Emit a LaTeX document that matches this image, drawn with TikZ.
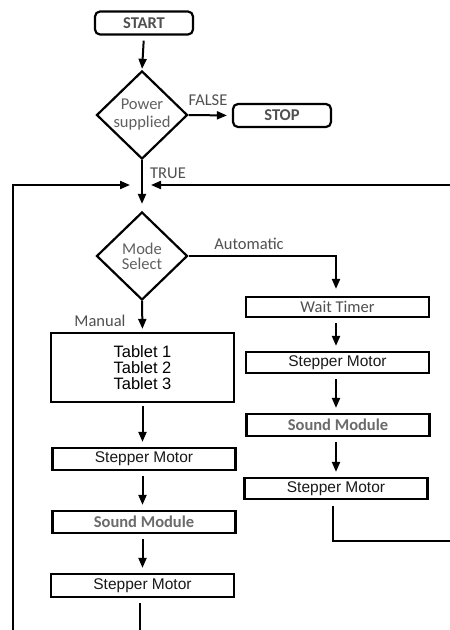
\documentclass[tikz,border=0pt]{standalone}
\usepackage{fontspec}
\setmainfont{Carlito}
\newfontfamily\arialf{Liberation Sans}
\usetikzlibrary{shapes.geometric,arrows.meta}
\definecolor{lbl}{HTML}{505050}
\definecolor{lbl2}{HTML}{606060}
\definecolor{snd}{HTML}{6A6A6A}
\begin{document}
\begin{tikzpicture}[x=1pt,y=-1pt,
  term/.style={draw,line width=2.2pt,rounded corners=5pt,minimum width=98pt,minimum height=23pt,inner sep=0pt,font=\fontsize{16.5}{16}\selectfont\bfseries,text=lbl},
  dec/.style={draw,diamond,line width=2.2pt,inner sep=0pt,minimum width=91pt,minimum height=88pt,text=lbl2,align=center},
  procbox/.style={draw,line width=2.2pt,minimum width=183pt,minimum height=21pt,inner sep=0pt},
  ar/.style={font=\arialf\fontsize{15.5}{15}\selectfont,text=black!90},
  cal/.style={font=\fontsize{16.5}{16}\selectfont,text=lbl},
  conn/.style={line width=2pt,-{Triangle[length=10pt,width=8pt]}},
  plain/.style={line width=2pt}
]
\useasboundingbox (0,0) rectangle (450,630);
\fill[white] (0,0) rectangle (450,630);

% top part
\node[term] (start) at (144,23) {START};
\node[dec,font=\fontsize{16.5}{18}\selectfont] (pw) at (142,115) {Power\\supplied};
\node[term] (stop) at (282,115.5) {STOP};
\node[cal] (false) at (208,100) {FALSE};
\node[cal] (true) at (168,173) {TRUE};

\node[dec,font=\fontsize{16.5}{15}\selectfont] (md) at (142,256) {Mode\\Select};
\node[cal] (auto) at (249,244) {Automatic};
\node[cal] (man) at (100,321) {Manual};

% right column
\node[procbox,minimum height=20pt,font=\fontsize{16.5}{16}\selectfont,text=lbl] (wait) at (337.5,307) {Wait Timer};
\node[procbox,ar] (sr1) at (337.5,362.5) {Stepper Motor};
\node[procbox,minimum height=22pt,font=\fontsize{16.5}{16}\selectfont\bfseries,text=snd] (snr) at (338,425) {Sound Module};
\node[procbox,ar] (sr2) at (336,488.5) {Stepper Motor};

% left column
\node[procbox,minimum height=69pt,align=center,font=\arialf\fontsize{16.5}{16}\selectfont] (tab) at (142.5,367.5) {Tablet 1\\Tablet 2\\Tablet 3};
\node[procbox,minimum height=22pt,ar] (sl1) at (144,459) {Stepper Motor};
\node[procbox,minimum height=22pt,font=\fontsize{16.5}{16}\selectfont\bfseries,text=snd] (snl) at (144,522) {Sound Module};
\node[procbox,minimum height=23pt,ar] (sl2) at (142.5,585.5) {Stepper Motor};

% coordinates
\coordinate (jl) at (130,185);
\coordinate (jr) at (151,185);
\coordinate (lb) at (13,630);
\coordinate (lt) at (13,185);
\coordinate (re) at (450,185);
\coordinate (ac) at (336,256);
\coordinate (rbc) at (333,541);
\coordinate (rbe) at (450,541);
\coordinate (lbe) at (140,630);

% connectors
\draw[conn,shorten <=5pt,shorten >=1pt] (start.south) -- (pw.north);
\draw[conn,shorten >=5pt] (pw.east) -- (stop.west);
\draw[conn,shorten >=7pt] (pw.south) -- (md.north);
\draw[conn] (lb) -- (lt) -- (jl);
\draw[conn] (re) -- (jr);
\draw[conn,shorten >=7pt] (md.east) -- (ac) -- (ac |- wait.north);
\draw[conn,shorten >=3pt] (md.south) -- (tab.north);
\draw[conn,shorten <=5pt,shorten >=5pt] (wait.south -| ac) -- (sr1.north -| ac);
\draw[conn,shorten <=5pt,shorten >=5pt] (sr1.south -| ac) -- (snr.north -| ac);
\draw[conn,shorten <=5pt,shorten >=5pt] (snr.south -| ac) -- (sr2.north -| ac);
\draw[plain,shorten <=6pt] (sr2.south -| rbc) -- (rbc) -- (rbe);
\draw[conn,shorten <=3pt,shorten >=5pt] (tab.south) -- (tab.south |- sl1.north);
\draw[conn,shorten <=5pt,shorten >=5pt] (sl1.south -| tab.south) -- (snl.north -| tab.south);
\draw[conn,shorten <=5pt,shorten >=5pt] (snl.south -| tab.south) -- (sl2.north -| tab.south);
\draw[plain,shorten <=5pt] (sl2.south -| lbe) -- (lbe);
\end{tikzpicture}
\end{document}
